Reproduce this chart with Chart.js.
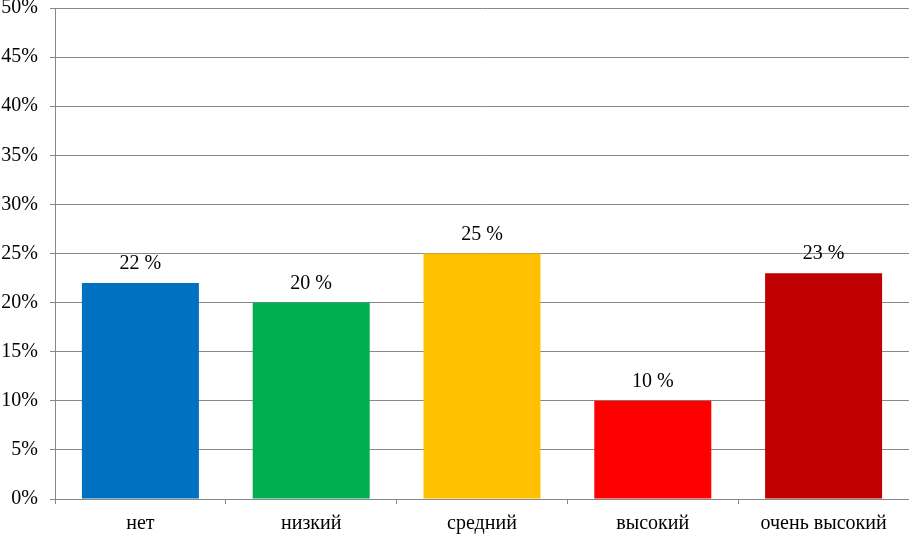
<!DOCTYPE html>
<html>
<head>
<meta charset="utf-8">
<script src="https://cdn.jsdelivr.net/npm/chart.js@4"></script>
<style>
  html, body { margin: 0; padding: 0; background: #fff; }
  #wrap { width: 909px; height: 536px; }
</style>
</head>
<body>
<div id="wrap"><canvas id="levelChart" width="909" height="536"></canvas></div>
<script>
const categories = ['нет', 'низкий', 'средний', 'высокий', 'очень высокий'];
const percents = [22, 20, 25, 10, 23];
const barColors = ['#0070C0', '#00B050', '#FFC000', '#FF0000', '#C00000'];
const yMax = 50;
const yStep = 5;

const serif = '"Liberation Serif", "Times New Roman", serif';

// value labels above each bar, e.g. "22 %"
const valueLabels = {
  id: 'valueLabels',
  afterDatasetsDraw(chart) {
    const ctx = chart.ctx;
    const meta = chart.getDatasetMeta(0);
    ctx.save();
    ctx.font = '20px ' + serif;
    ctx.fillStyle = '#000';
    ctx.textAlign = 'center';
    ctx.textBaseline = 'alphabetic';
    meta.data.forEach(function(bar, i) {
      ctx.fillText(percents[i] + ' %', bar.x, bar.y - 14);
    });
    ctx.restore();
  }
};

const ctx = document.getElementById('levelChart').getContext('2d');
const levelChart = new Chart(ctx, {
  type: 'bar',
  data: {
    labels: categories,
    datasets: [{
      data: percents,
      backgroundColor: barColors,
      borderWidth: 0,
      categoryPercentage: 0.685,
      barPercentage: 1
    }]
  },
  options: {
    responsive: false,
    animation: false,
    layout: { padding: { top: 8, right: 0, left: 0, bottom: 0 } },
    scales: {
      x: {
        grid: { display: true, drawOnChartArea: false, offset: true, color: '#888', tickLength: 5 },
        border: { display: true, color: '#888', width: 1 },
        ticks: {
          color: '#000',
          font: { family: serif, size: 20 },
          padding: 8,
          maxRotation: 0,
          autoSkip: false
        },
        afterFit: function(scale) {
          scale.height = 37;
          scale.paddingLeft = 0;
          scale.paddingRight = 0;
        }
      },
      y: {
        min: 0,
        max: yMax,
        grid: { color: '#888', lineWidth: 1, tickLength: 5 },
        border: { display: true, color: '#888', width: 1 },
        ticks: {
          stepSize: yStep,
          color: '#000',
          font: { family: serif, size: 20 },
          padding: 12,
          callback: function(value) { return value + '%'; }
        },
        afterFit: function(scale) {
          scale.width = 55;
          scale.paddingTop = 0;
          scale.paddingBottom = 0;
        }
      }
    },
    plugins: {
      legend: { display: false },
      title: { display: false },
      tooltip: { enabled: false }
    }
  },
  plugins: [valueLabels]
});
</script>
</body>
</html>
